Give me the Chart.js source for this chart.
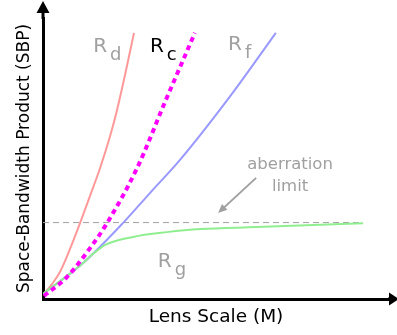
<!DOCTYPE html>
<html>
<head>
<meta charset="utf-8">
<script src="https://cdn.jsdelivr.net/npm/chart.js@4/dist/chart.umd.min.js"></script>
<style>
html, body { margin: 0; padding: 0; background: #fff; }
#wrap { width: 397px; height: 335px; }
</style>
</head>
<body>
<div id="wrap"><canvas id="myChart"></canvas></div>
<script>
// values (x = lens scale, y = SBP, arbitrary units 0..10)
const rdX = [0, 0.26, 0.49, 0.78, 1.07, 1.36, 1.65, 1.94, 2.14, 2.37, 2.63];
const rdY = [0.14, 0.53, 0.96, 1.78, 2.70, 3.67, 4.66, 5.80, 6.73, 7.97, 9.47];

const rcX = [0.03, 0.69, 1.36, 1.85, 2.72, 3.55, 4.39];
const rcY = [0.11, 0.78, 1.81, 2.70, 4.66, 7.08, 9.47];

const rfX = [0, 1.16, 2.31, 3.09, 3.96, 5.46, 6.73];
const rfY = [0.18, 1.28, 2.70, 3.77, 4.95, 7.30, 9.47];

const rgX = [0, 1.16, 1.42, 1.80, 2.60, 3.58, 4.54, 6.18, 9.25];
const rgY = [0.18, 1.28, 1.58, 1.93, 2.21, 2.38, 2.49, 2.56, 2.70];

const limitX = [0, 9.25];
const limitY = [2.72, 2.72];

const arrowFrom = [6.16, 4.31];
const arrowTo = [5.06, 3.06];

const curveLabels = [
    { main: 'R', sub: 'd', x: 1.45, y: 8.79, color: '#a0a0a0' },
    { main: 'R', sub: 'c', x: 3.09, y: 8.79, color: '#000000' },
    { main: 'R', sub: 'f', x: 5.35, y: 8.86, color: '#a0a0a0' },
    { main: 'R', sub: 'g', x: 3.32, y: 1.14, color: '#a0a0a0' }
];
const noteLines = ['aberration', 'limit'];
const notePos = [7.14, 4.63];

const FONT = '"DejaVu Sans", sans-serif';

function zip(xs, ys) {
    return xs.map((x, i) => ({ x: x, y: ys[i] }));
}

function curve(label, xs, ys, color, extra) {
    return Object.assign({
        label: label,
        data: zip(xs, ys),
        showLine: true,
        borderColor: color,
        backgroundColor: color,
        borderWidth: 2,
        pointRadius: 0,
        cubicInterpolationMode: 'monotone'
    }, extra || {});
}

const decor = {
    id: 'decor',
    afterDraw(chart) {
        const ctx = chart.ctx;
        const xs = chart.scales.x, ys = chart.scales.y;
        const ox = chart.chartArea.left, oy = chart.chartArea.bottom;
        const top = chart.chartArea.top, right = chart.chartArea.right;
        ctx.save();

        // axis extensions + arrow heads
        ctx.strokeStyle = '#000';
        ctx.fillStyle = '#000';
        ctx.lineWidth = 3;
        ctx.beginPath();
        ctx.moveTo(ox, top + 1);
        ctx.lineTo(ox, 12);
        ctx.moveTo(right - 1, oy);
        ctx.lineTo(390, oy);
        ctx.stroke();
        ctx.beginPath();
        ctx.moveTo(ox - 6.5, 13);
        ctx.lineTo(ox + 6.5, 13);
        ctx.lineTo(ox, 1);
        ctx.closePath();
        ctx.fill();
        ctx.beginPath();
        ctx.moveTo(389, oy - 6.5);
        ctx.lineTo(389, oy + 6.5);
        ctx.lineTo(399, oy);
        ctx.closePath();
        ctx.fill();

        // curve names
        ctx.textBaseline = 'alphabetic';
        ctx.textAlign = 'left';
        curveLabels.forEach(l => {
            const px = xs.getPixelForValue(l.x);
            const py = ys.getPixelForValue(l.y);
            ctx.fillStyle = l.color;
            ctx.font = '20px ' + FONT;
            ctx.fillText(l.main, px, py);
            const w = ctx.measureText(l.main).width;
            ctx.font = '18px ' + FONT;
            ctx.fillText(l.sub, px + w + 3, py + 8);
        });

        // aberration limit note
        ctx.fillStyle = '#a0a0a0';
        ctx.font = '16.5px ' + FONT;
        ctx.textAlign = 'center';
        const nx = xs.getPixelForValue(notePos[0]);
        const ny = ys.getPixelForValue(notePos[1]);
        noteLines.forEach((t, i) => ctx.fillText(t, nx, ny + i * 22));

        // pointer arrow
        const x1 = xs.getPixelForValue(arrowFrom[0]), y1 = ys.getPixelForValue(arrowFrom[1]);
        const x2 = xs.getPixelForValue(arrowTo[0]), y2 = ys.getPixelForValue(arrowTo[1]);
        const ang = Math.atan2(y2 - y1, x2 - x1);
        ctx.strokeStyle = '#a0a0a0';
        ctx.fillStyle = '#a0a0a0';
        ctx.lineWidth = 2;
        ctx.beginPath();
        ctx.moveTo(x1, y1);
        ctx.lineTo(x2 - 5 * Math.cos(ang), y2 - 5 * Math.sin(ang));
        ctx.stroke();
        ctx.beginPath();
        ctx.moveTo(x2, y2);
        ctx.lineTo(x2 - 9 * Math.cos(ang) + 4 * Math.sin(ang), y2 - 9 * Math.sin(ang) - 4 * Math.cos(ang));
        ctx.lineTo(x2 - 9 * Math.cos(ang) - 4 * Math.sin(ang), y2 - 9 * Math.sin(ang) + 4 * Math.cos(ang));
        ctx.closePath();
        ctx.fill();

        ctx.restore();
    }
};

const config = {
    type: 'scatter',
    data: {
        datasets: [
            curve('R_c', rcX, rcY, '#ff00ff', { borderWidth: 4, borderDash: [5, 4], order: 0 }),
            curve('R_g', rgX, rgY, '#90ee90', { order: 1 }),
            curve('R_f', rfX, rfY, '#9999ff', { order: 2 }),
            curve('R_d', rdX, rdY, '#ff9999', { order: 3 }),
            curve('limit', limitX, limitY, '#a0a0a0', { borderWidth: 1, borderDash: [6, 4], cubicInterpolationMode: 'default', order: 4 })
        ]
    },
    options: {
        responsive: true,
        maintainAspectRatio: false,
        animation: false,
        layout: {
            padding: { top: 18, right: 8, bottom: 0, left: 0 }
        },
        plugins: {
            legend: { display: false },
            tooltip: { enabled: false }
        },
        scales: {
            x: {
                type: 'linear',
                min: 0,
                max: 10,
                ticks: { display: false },
                grid: { display: false },
                border: { display: true, color: '#000', width: 3 },
                title: {
                    display: true,
                    text: 'Lens Scale (M)',
                    color: '#000',
                    font: { family: FONT, size: 18.5 },
                    padding: { top: 0, bottom: 7 }
                },
                afterFit: s => { s.height = 36; }
            },
            y: {
                type: 'linear',
                min: 0,
                max: 10,
                ticks: { display: false },
                grid: { display: false },
                border: { display: true, color: '#000', width: 3 },
                title: {
                    display: true,
                    text: 'Space-Bandwidth Product (SBP)',
                    color: '#000',
                    font: { family: FONT, size: 17 },
                    padding: { top: 14, bottom: 0 }
                },
                afterFit: s => { s.width = 43; }
            }
        }
    },
    plugins: [decor]
};

new Chart(document.getElementById('myChart'), config);
</script>
</body>
</html>
